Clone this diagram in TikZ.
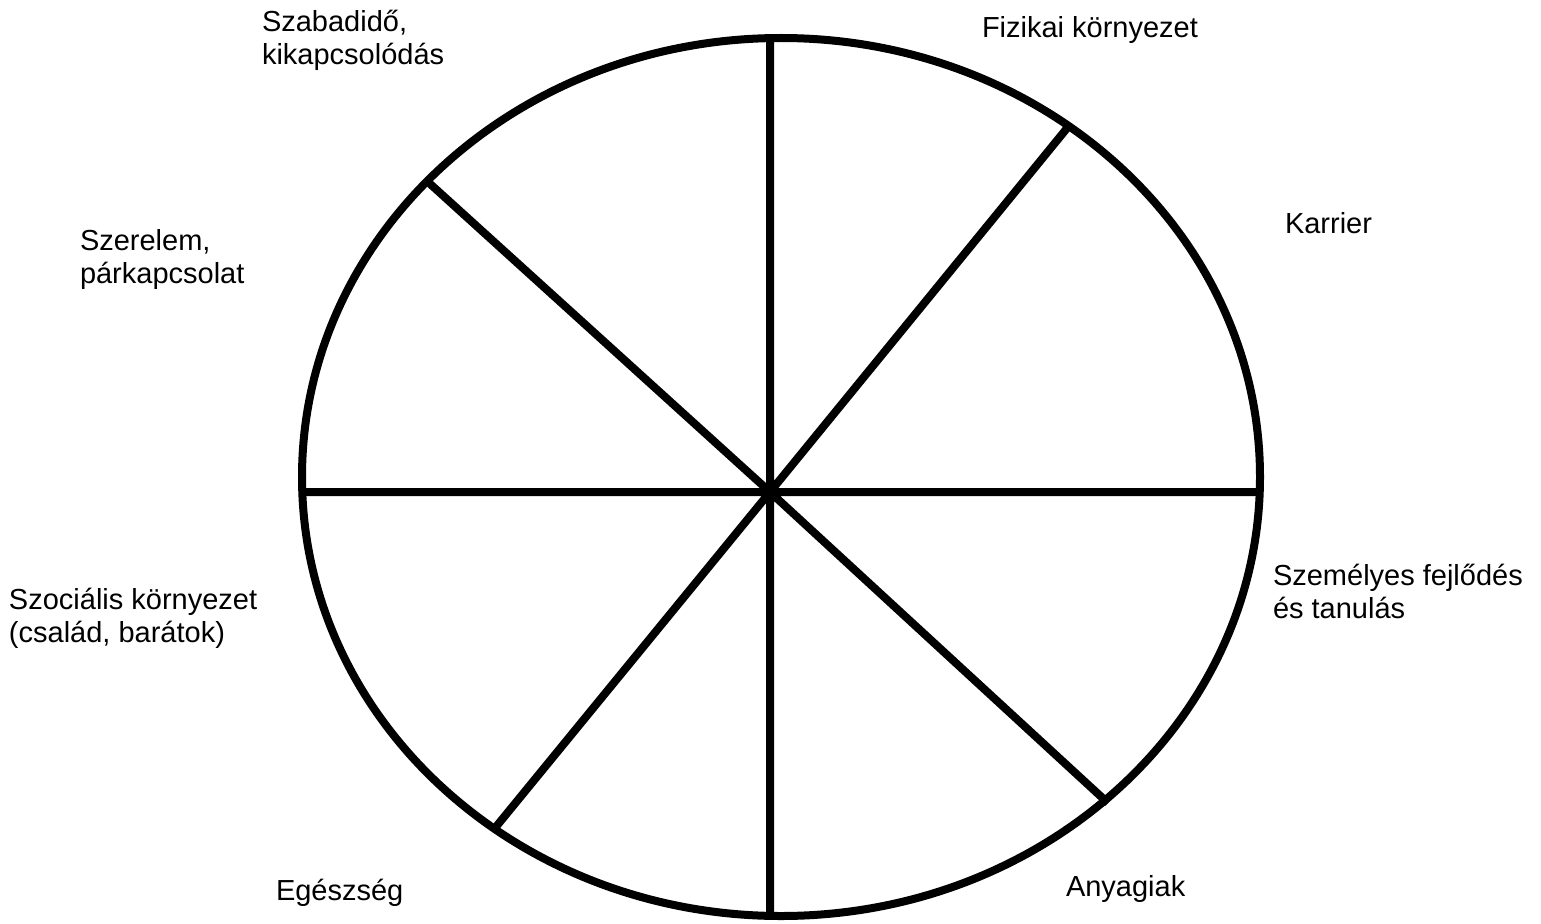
\documentclass[tikz,border=0pt]{standalone}
\usepackage{fontspec}
\setmainfont{Liberation Sans}
\usepackage{tikz}
\usetikzlibrary{positioning}
\tikzset{lbl/.style={anchor=base west,align=left,inner sep=0pt,font=\fontsize{29}{33}\selectfont}}
\begin{document}
\begin{tikzpicture}[x=1pt,y=-1pt,line width=8pt]
\useasboundingbox(0,0)rectangle(1541,923);
\draw(781,477)ellipse[x radius=479,y radius=439];
\coordinate(o)at(770,492);
\coordinate(n)at(770,38);
\coordinate(s)at(770,918);
\coordinate(w)at(302,492);
\coordinate(e)at(1259,492);
\coordinate(ne)at(1068,127);
\coordinate(nw)at(428,182);
\coordinate(sw)at(495,828);
\coordinate(se)at(1108,803);
\draw(o)--(n) (o)--(s) (o)--(w) (o)--(e)
(o)--(ne) (o)--(nw) (o)--(sw) (o)--(se);
\node[lbl](szabad)at(258,65){Szabadidő,\\kikapcsolódás};
\node[lbl](fizikai)at(978,38){Fizikai környezet};
\node[lbl](karrier)at(1281,233){Karrier};
\node[lbl](szerelem)at(76,283){Szerelem,\\párkapcsolat};
\node[lbl](fejlodes)at(1269,618){Személyes fejlődés\\és tanulás};
\node[lbl](szocialis)at(5,642){Szociális környezet\\(család, barátok)};
\node[lbl](egeszseg)at(272,900){Egészség};
\node[lbl](anyagiak)at(1062,896){Anyagiak};
\end{tikzpicture}
\end{document}
